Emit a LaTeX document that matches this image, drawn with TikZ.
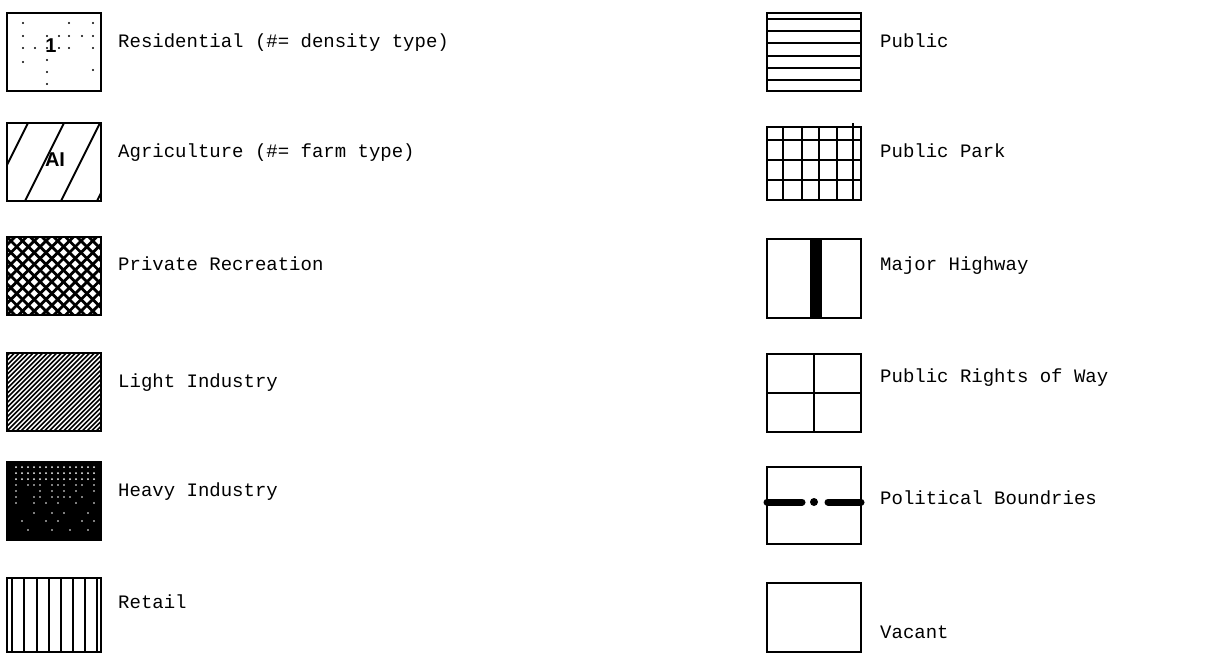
\documentclass[tikz,border=0pt]{standalone}
\usepackage{fontspec}
\newfontfamily\labelfont{Liberation Mono}
\newfontfamily\tagfont{Liberation Sans}
\begin{document}
\begin{tikzpicture}[x=1pt,y=-1pt,
  legendbox/.style={draw=black, line width=2.2pt, minimum width=94pt, inner sep=0pt, outer sep=0pt},
  legendlabel/.style={anchor=mid west, inner sep=0pt, font=\labelfont\fontsize{19}{22}\selectfont},
  hatchline/.style={line width=1.6pt},
  crossline/.style={line width=2.8pt},
  gridline/.style={line width=2.4pt},
  whitedot/.style={fill=white, draw=none}]
\useasboundingbox (0,0) rectangle (1205,654);

% ---------------- left column ----------------
% residential
\node[legendbox, minimum height=78pt] (res) at (54,52) {};
\foreach \p in {(23,23),(69,23),(93,23),
                (23,36),(47,36),(59,36),(69,36),(82,36),(93,36),
                (23,48),(35,48),(47,48),(59,48),(69,48),(93,48),
                (47,60),(23,62),(47,72),(93,70),(47,84)}
  \fill \p circle (1.2);
\node[inner sep=0pt, font=\tagfont\bfseries\fontsize{20}{20}\selectfont] (restag) at (51,46) {1};

% agriculture
\node[legendbox, minimum height=78pt] (agr) at (54,162) {};
\begin{scope}
  \clip (agr.south west) rectangle (agr.north east);
  \foreach \x in {-11,25,61,97}
    \draw[line width=1.8pt] (\x,201) -- ++(39,-78);
\end{scope}
\node[inner sep=1pt, font=\tagfont\bfseries\fontsize{20}{20}\selectfont] (agrtag) at (55,160) {AI};

% private recreation
\node[legendbox, minimum height=78pt] (rec) at (54,276) {};
\begin{scope}
  \clip (rec.south west) rectangle (rec.north east);
  \foreach \i in {-8,...,9} {
    \draw[crossline] (7+\i*11.7,315) -- ++(80,-80);
    \draw[crossline] (7+\i*11.7,237) -- ++(80,80);
  }
\end{scope}

% light industry
\node[legendbox, minimum height=78pt] (light) at (54,392) {};
\begin{scope}
  \clip (light.south west) rectangle (light.north east);
  \foreach \i in {-18,...,21}
    \draw[hatchline] (7+\i*4.7,431) -- ++(80,-80);
\end{scope}

% heavy industry
\node[legendbox, fill=black, minimum height=78pt] (heavy) at (54,501) {};
\foreach \y in {467,473,479}
  \foreach \x in {16,22,...,96}
    \fill[whitedot] (\x,\y) circle (1);
\foreach \x in {16,28,34,40,52,58,64,76,82,94}
  \fill[whitedot] (\x,485) circle (0.9);
\foreach \x in {16,40,52,64,76,94}
  \fill[whitedot] (\x,491) circle (0.9);
\foreach \x in {16,34,40,52,58,64,70,82}
  \fill[whitedot] (\x,497) circle (0.9);
\foreach \x in {16,34,46,58,76,94}
  \fill[whitedot] (\x,503) circle (0.8);
\foreach \x in {34,52,64,88}
  \fill[whitedot] (\x,513) circle (0.8);
\foreach \x in {22,46,58,82,94}
  \fill[whitedot] (\x,521) circle (0.8);
\foreach \x in {28,52,70,88}
  \fill[whitedot] (\x,530) circle (0.8);

% retail
\node[legendbox, minimum height=74pt] (retail) at (54,615) {};
\foreach \x in {12,24,37,49,61,73,85,97}
  \draw[hatchline] (\x,578) -- (\x,652);

% left labels
\node[legendlabel] (lres)    at (118,45)  {Residential (\#= density type)};
\node[legendlabel] (lagr)    at (118,155) {Agriculture (\#= farm type)};
\node[legendlabel] (lrec)    at (118,268) {Private Recreation};
\node[legendlabel] (llight)  at (118,385) {Light Industry};
\node[legendlabel] (lheavy)  at (118,494) {Heavy Industry};
\node[legendlabel] (lretail) at (118,606) {Retail};

% ---------------- right column ----------------
% public
\node[legendbox, minimum height=78pt] (pub) at (814,52) {};
\foreach \y in {19,31,43,56,68,80}
  \draw[hatchline] (pub.west |- 0,\y) -- (pub.east |- 0,\y);

% public park
\node[legendbox, minimum height=73pt] (park) at (814,163.5) {};
\foreach \x in {783,802,819,837,853}
  \draw[gridline] (\x,127) -- (\x,200);
\draw[gridline] (853,127) -- (853,123);
\foreach \y in {140,160,180}
  \draw[gridline] (park.west |- 0,\y) -- (park.east |- 0,\y);

% major highway
\node[legendbox, minimum height=79pt] (hwy) at (814,278.5) {};
\fill (810,239) rectangle (822,318);

% public rights of way
\node[legendbox, minimum height=78pt] (row) at (814,393) {};
\draw[gridline] (row.north) -- (row.south);
\draw[gridline] (row.west) -- (row.east);

% political boundaries
\node[legendbox, minimum height=77pt] (pol) at (814,505.5) {};
\coordinate (polL) at (pol.west |- 0,502);
\coordinate (polR) at (pol.east |- 0,502);
\draw[line width=7pt, line cap=round] (polL) -- (802,502);
\draw[line width=7pt, line cap=round] (828,502) -- (polR);
\fill (814,502) circle (4);

% vacant
\node[legendbox, minimum height=69pt] (vac) at (814,617.5) {};

% right labels
\node[legendlabel] (lpub)  at (880,45)  {Public};
\node[legendlabel] (lpark) at (880,155) {Public Park};
\node[legendlabel] (lhwy)  at (880,268) {Major Highway};
\node[legendlabel] (lrow)  at (880,380) {Public Rights of Way};
\node[legendlabel] (lpol)  at (880,502) {Political Boundries};
\node[legendlabel] (lvac)  at (880,636) {Vacant};
\end{tikzpicture}
\end{document}
